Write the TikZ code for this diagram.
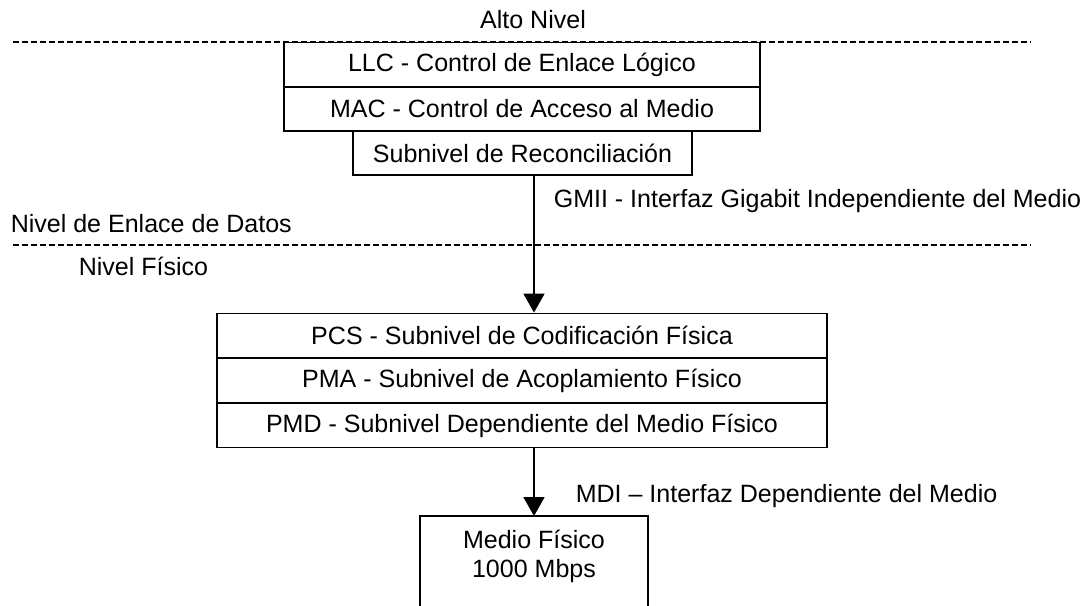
\documentclass[tikz,border=0pt]{standalone}
\usepackage{fontspec}
\setmainfont{Liberation Sans}
\usetikzlibrary{arrows.meta}

\begin{document}
\begin{tikzpicture}[x=0.025cm, y=-0.025cm,
  font=\fontsize{17.8}{20.6}\selectfont,
  line width=1.1pt,
  capa/.style={shape=rectangle, draw=black, inner sep=0pt, minimum height=1.11cm},
  rotulo/.style={anchor=base west, inner sep=0pt},
  corte/.style={dashed, dash pattern=on 4pt off 2.4pt},
  flecha/.style={-{Triangle[length=13.5pt, width=15pt]}}]
\useasboundingbox (0,0) rectangle (1085,605);
\clip (0,0) rectangle (1085,605);

              % niveles
\draw[corte] (13,42) -- (1030,42);
\draw[corte] (13,245) -- (1030,245);

\node[anchor=base, inner sep=0pt] at (533, 28)
(alto) {Alto Nivel};
\node[rotulo] at (10, 232)
(enlace) {Nivel de Enlace de Datos};
\node[rotulo] at (78, 275)
(fisico) {Nivel Físico};

              % enlace de datos
\node[capa, fill=white, minimum width=11.9cm] at (522, 64.5)
(llc) {LLC - Control de Enlace Lógico};
\node[capa, minimum width=11.9cm] at (522, 109)
(mac) {MAC - Control de Acceso al Medio};
\node[capa, minimum width=8.475cm, minimum height=1.1cm] at (522.5, 153)
(rs) {Subnivel de Reconciliación};

              % fisico
\node[capa, minimum width=15.25cm] at (522, 335.5)
(pcs) {PCS - Subnivel de Codificación Física};
\node[capa, minimum width=15.25cm] at (522, 380.5)
(pma) {PMA - Subnivel de Acoplamiento Físico};
\node[capa, minimum width=15.25cm] at (522, 425.5)
(pmd) {PMD - Subnivel Dependiente del Medio Físico};

              % medio
\node[shape=rectangle, anchor=north, minimum width=5.65cm, minimum height=3cm] at (534, 516)
(medio) {};
\draw (medio.south west) -- (medio.north west) -- (medio.north east) -- (medio.south east);
\node[align=center] at (534, 556)
(mediotxt) {Medio Físico\\1000 Mbps};

\node[rotulo] at (553, 207)
(gmii) {GMII - Interfaz Gigabit Independiente del Medio};
\node[rotulo] at (575, 502)
(mdi) {MDI – Interfaz Dependiente del Medio};

\draw[flecha]
  (rs.south -| medio.north) -- (pcs.north -| medio.north);
\draw[flecha]
  (pmd.south -| medio.north) -- (medio.north);
\end{tikzpicture}
\end{document}
